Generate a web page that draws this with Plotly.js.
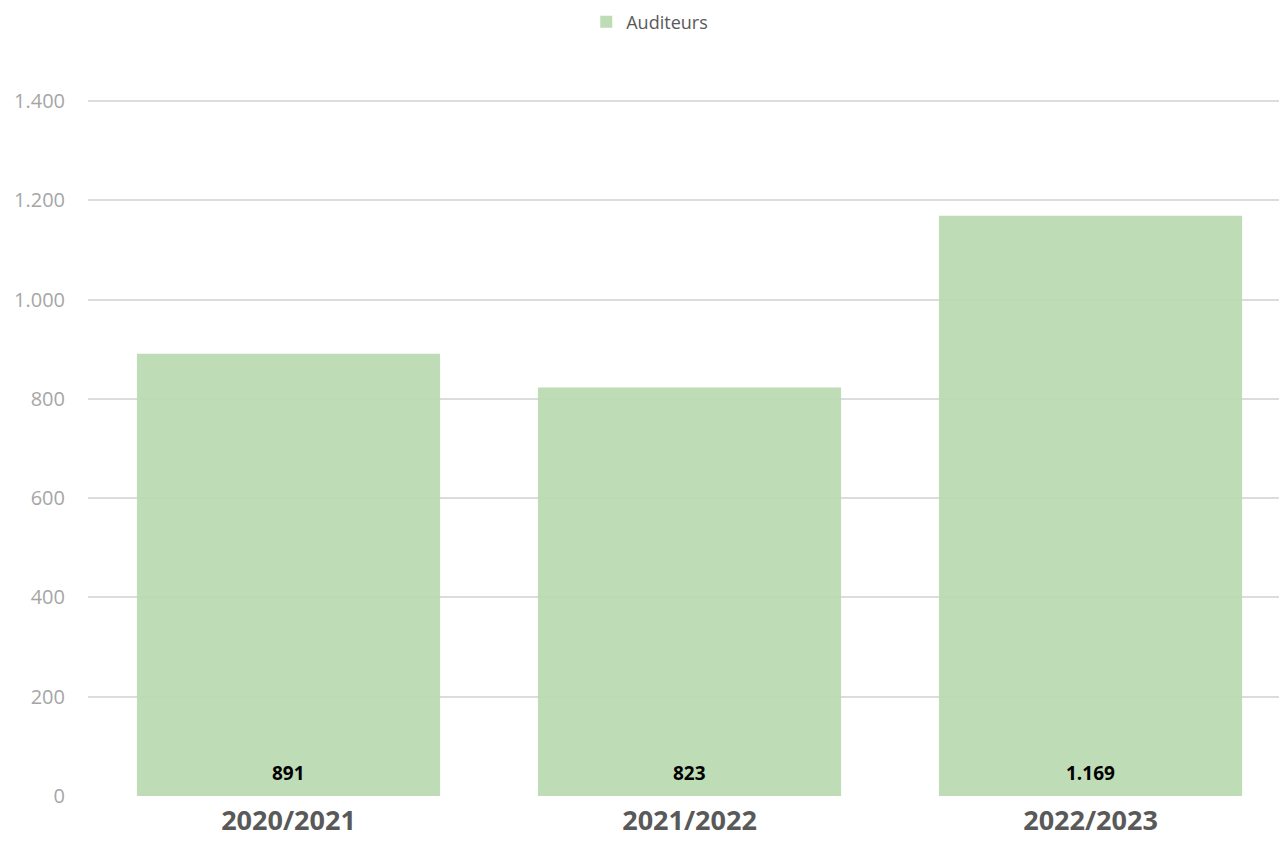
<!DOCTYPE html>
<html>
<head>
<meta charset="utf-8">
<script src="https://cdn.plot.ly/plotly-3.0.1.min.js"></script>
<style>html,body{margin:0;padding:0;background:#fff;}#chart{width:1279px;height:848px;}</style>
</head>
<body>
<div id="chart"></div>
<script>
const categories = ["2020/2021", "2021/2022", "2022/2023"];
const auditeurs = [891, 823, 1169];
const seriesName = "Auditeurs";
const yTicks = [0, 200, 400, 600, 800, 1000, 1200, 1400];

const fmt = v => v.toString().replace(/\B(?=(\d{3})+(?!\d))/g, ".");

const trace = {
  type: "bar",
  x: categories,
  y: auditeurs,
  name: seriesName,
  width: 0.756,
  marker: {color: "rgba(184,217,176,0.92)"},
  hoverinfo: "none"
};

const annotations = categories.map((c, i) => ({
  x: c, y: 0, xref: "x", yref: "y",
  text: "<b>" + fmt(auditeurs[i]) + "</b>",
  showarrow: false, yanchor: "middle", yshift: 23,
  font: {family: "Open Sans", size: 19, color: "#000000"}
}));

const layout = {
  width: 1279, height: 848,
  margin: {l: 88, r: 0, t: 96, b: 52},
  paper_bgcolor: "#ffffff", plot_bgcolor: "#ffffff",
  separators: ",.",
  font: {family: "Open Sans", color: "#595959"},
  showlegend: true,
  legend: {
    orientation: "h", xref: "container", x: 0.508, xanchor: "center",
    yref: "container", y: 0.974, yanchor: "middle",
    font: {family: "Open Sans", size: 18, color: "#595959"},
    itemwidth: 30
  },
  bargap: 0.244,
  xaxis: {
    type: "category",
    range: [-0.5, 2.47],
    showgrid: false, zeroline: false, showline: false,
    ticks: "",
    tickfont: {family: "Open Sans", size: 27, color: "#595959", weight: "bold"},
    ticklabelstandoff: 6,
    automargin: false
  },
  yaxis: {
    range: [0, 1410],
    tickvals: yTicks,
    ticktext: yTicks.map(fmt),
    showgrid: true, gridcolor: "#dcdcdc", gridwidth: 2,
    zeroline: false, showline: false,
    ticks: "",
    tickfont: {family: "Open Sans", size: 20, color: "#a6a6a6"},
    ticklabelstandoff: 22,
    automargin: false
  },
  annotations: annotations
};

Plotly.newPlot("chart", [trace], layout, {displayModeBar: false, staticPlot: true});
</script>
</body>
</html>
